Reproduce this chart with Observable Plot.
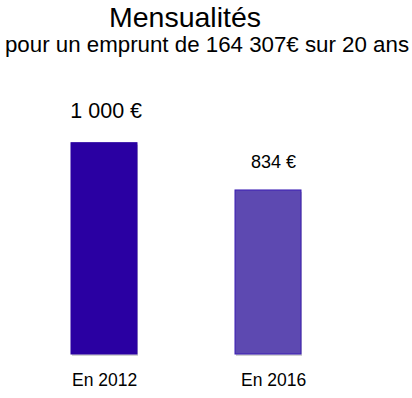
<!DOCTYPE html>
<html>
<head>
<meta charset="utf-8">
<script src="https://cdn.jsdelivr.net/npm/d3@7"></script>
<script src="https://cdn.jsdelivr.net/npm/@observablehq/plot@0.6"></script>
<style>
  html, body { margin: 0; padding: 0; background: #fff; }
  body { width: 412px; height: 398px; position: relative; overflow: hidden; font-family: "Liberation Sans", Arial, sans-serif; color: #000; }
  .title { position: absolute; left: 0; width: 370px; top: 3.3px; font-size: 28.5px; line-height: 28px; text-align: center; white-space: nowrap; }
  .subtitle { position: absolute; left: 0; width: 414px; top: 34.4px; font-size: 22.3px; line-height: 22px; text-align: center; white-space: nowrap; }
  #chart { position: absolute; left: 0; top: 62px; }
  #chart svg { font-family: "Liberation Sans", Arial, sans-serif; }
</style>
</head>
<body>
<div class="title">Mensualités</div>
<div class="subtitle">pour un emprunt de 164 307€ sur 20 ans</div>
<div id="chart"></div>
<script>
const categories = ["En 2012", "En 2016"];
const values = [1000, 834];
const valueLabels = ["1 000 €", "834 €"];

const data = categories.map((c, i) => ({ cat: c, value: values[i], label: valueLabels[i] }));
const colors = ["#2a00a2", "#5d49b1"];
const strokes = ["#2a00a2", "#3a1db4"];
const base = 258;

const chart = Plot.plot({
  width: 412,
  height: 336,
  marginLeft: 71,
  marginRight: 110,
  marginTop: 80.7,
  marginBottom: 44,
  x: { domain: categories, paddingInner: 0.596, paddingOuter: 0, axis: null },
  y: { domain: [base, 1000], axis: null },
  color: { domain: categories, range: colors },
  marks: [
    Plot.rectY(data, { x: "cat", y1: base, y2: "value", fill: "#000", fillOpacity: 0.18, dx: 1, dy: 2 }),
    Plot.rectY(data, { x: "cat", y1: base, y2: "value", fill: "cat", stroke: (d, i) => strokes[i], strokeWidth: 1 }),
    Plot.text(data.filter((d, i) => i === 0), { x: "cat", y: "value", text: "label", fontSize: 21.5, lineAnchor: "bottom", dy: -25.7, dx: 1.7, fill: "#000" }),
    Plot.text(data.filter((d, i) => i === 1), { x: "cat", y: "value", text: "label", fontSize: 18, lineAnchor: "bottom", dy: -22, dx: 5, fill: "#000" }),
    Plot.text(data.filter((d, i) => i === 0), { x: "cat", y: base, text: "cat", fontSize: 17.5, lineAnchor: "bottom", dy: 31.7, dx: 0.2, fill: "#000" }),
    Plot.text(data.filter((d, i) => i === 1), { x: "cat", y: base, text: "cat", fontSize: 17.5, lineAnchor: "bottom", dy: 31.7, dx: 5.2, fill: "#000" })
  ]
});
document.getElementById("chart").appendChild(chart);
</script>
</body>
</html>
